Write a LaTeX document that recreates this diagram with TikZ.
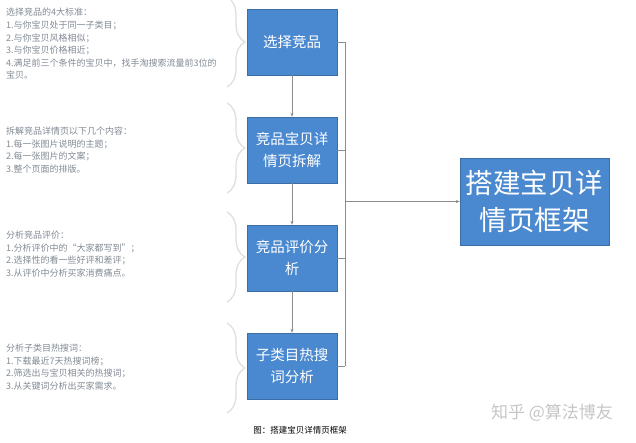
\documentclass[tikz,border=0pt]{standalone}
\usepackage{fontspec}
\setmainfont{Noto Sans CJK SC}
\usetikzlibrary{arrows.meta, positioning, decorations.pathreplacing}
\definecolor{boxblue}{RGB}{74, 137, 207}
\definecolor{notegray}{RGB}{130, 138, 148}
\definecolor{linegray}{RGB}{140, 140, 140}

\begin{document}
\begin{tikzpicture}[x=1pt, y=-1pt,
  stepbox/.style={draw=boxblue!80!black, fill=boxblue, text=white, minimum width=90pt, minimum height=66pt, align=center, font=\fontsize{14.5}{22}\selectfont, inner sep=2pt},
  note/.style={anchor=west, align=left, text=notegray, font=\fontsize{9}{12.6}\selectfont, inner sep=0pt},
  bracefig/.style={draw=gray!25, line width=1.3pt, decorate, decoration={brace, amplitude=18pt}},
  link/.style={draw=linegray, line width=0.6pt}
]
  \useasboundingbox (0,0) rectangle (636,442);

  % Steps
  \node[stepbox] (sel) at (292, 42) {选择竞品};
  \node[stepbox] (dis) at (292, 150) {竞品宝贝详\\情页拆解};
  \node[stepbox] (rev) at (292, 258) {竞品评价分\\析};
  \node[stepbox] (hot) at (292, 366) {子类目热搜\\词分析};

  % Result
  \node[stepbox, minimum width=149pt, minimum height=87pt, font=\fontsize{27.5}{37}\selectfont] (frame) at (534.5, 201.5) {搭建宝贝详\\情页框架};

  % Notes
  \node[note] (selnote) at (6, 44) {
    选择竞品的4大标准：\\
    1.与你宝贝处于同一子类目；\\
    2.与你宝贝风格相似；\\
    3.与你宝贝价格相近；\\
    4.满足前三个条件的宝贝中，找手淘搜索流量前3位的\\
    宝贝。
  };
  \node[note] (disnote) at (6, 150) {
    拆解竞品详情页以下几个内容：\\
    1.每一张图片说明的主题；\\
    2.每一张图片的文案；\\
    3.整个页面的排版。
  };
  \node[note] (revnote) at (6, 254) {
    分析竞品评价：\\
    1.分析评价中的“大家都写到”；\\
    2.选择性的看一些好评和差评；\\
    3.从评价中分析买家消费痛点。
  };
  \node[note] (hotnote) at (6, 367) {
    分析子类目热搜词：\\
    1.下载最近7天热搜词榜；\\
    2.筛选出与宝贝相关的热搜词；\\
    3.从关键词分析出买家需求。
  };

  % Braces
  \foreach \y in {42, 148, 257, 368}
    \draw[bracefig] (227, \y-45) -- (227, \y+45);

  % Flow
  \draw[link, -{Stealth[length=4pt, width=3pt]}] (sel) -- (dis);
  \draw[link, -{Stealth[length=4pt, width=3pt]}] (dis) -- (rev);
  \draw[link, -{Stealth[length=4pt, width=3pt]}] (rev) -- (hot);

  \coordinate (bus) at (345, 201.5);
  \draw[link] (sel.east) -- (sel.east -| bus);
  \draw[link] (dis.east) -- (dis.east -| bus);
  \draw[link] (rev.east) -- (rev.east -| bus);
  \draw[link] (hot.east) -- (hot.east -| bus);
  \draw[link] (sel.east -| bus) -- (hot.east -| bus);
  \draw[link, -{Stealth[length=4pt, width=3pt]}] (bus) -- (frame.west);

  % Caption and mark
  \node[font=\fontsize{8.5}{10}\selectfont] (cap) at (300, 430) {图：搭建宝贝详情页框架};
  \node[text=gray!45, font=\fontsize{17}{20}\selectfont] (mark) at (552, 413) {知乎 @算法博友};
\end{tikzpicture}
\end{document}
